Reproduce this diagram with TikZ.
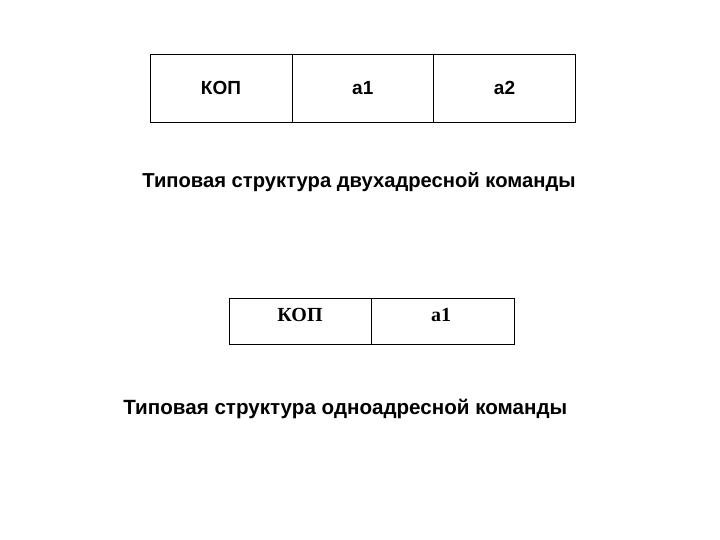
\documentclass[tikz,border=0pt]{standalone}
\usepackage{fontspec}
\setmainfont{Liberation Sans}
\newfontfamily\serifru{Liberation Serif}
\begin{document}
\begin{tikzpicture}[x=1pt,y=1pt,
  cell/.style={draw=black, line width=0.8pt, minimum height=68pt, inner sep=0pt, outer sep=0pt},
  cellb/.style={draw=black, line width=0.8pt, minimum height=46pt, inner sep=0pt, outer sep=0pt},
  lab/.style={font=\fontsize{19}{22}\selectfont\bfseries},
  labs/.style={font=\fontsize{20}{23}\selectfont\serifru\bfseries},
  captext/.style={font=\fontsize{20.2}{23}\selectfont\bfseries, inner sep=0pt}]
\useasboundingbox (0,0) rectangle (720,540);
% top: two-address
\node[cell, minimum width=142pt] (kop) at (221,452) {};
\node[cell, minimum width=141pt] (aa1) at (362.8,452) {};
\node[cell, minimum width=142pt] (aa2) at (504.5,452) {};
\node[lab] (t1) at (kop.center) {КОП};
\node[lab] (t2) at (aa1.center) {a1};
\node[lab] (t3) at (aa2.center) {a2};
\node[captext, anchor=base] (cap1) at (359,352) {Типовая структура двухадресной команды};
% bottom: one-address
\node[cellb, minimum width=141.5pt] (kopb) at (300.5,219) {};
\node[cellb, minimum width=143pt] (bb1) at (442.8,219) {};
\node[labs, anchor=base] (u1) at (300,218) {КОП};
\node[labs, anchor=base] (u2) at (441,218) {a1};
\node[captext, anchor=base, font=\fontsize{20.6}{23}\selectfont\bfseries] (cap2) at (345.3,125) {Типовая структура одноадресной команды};
\end{tikzpicture}
\end{document}
